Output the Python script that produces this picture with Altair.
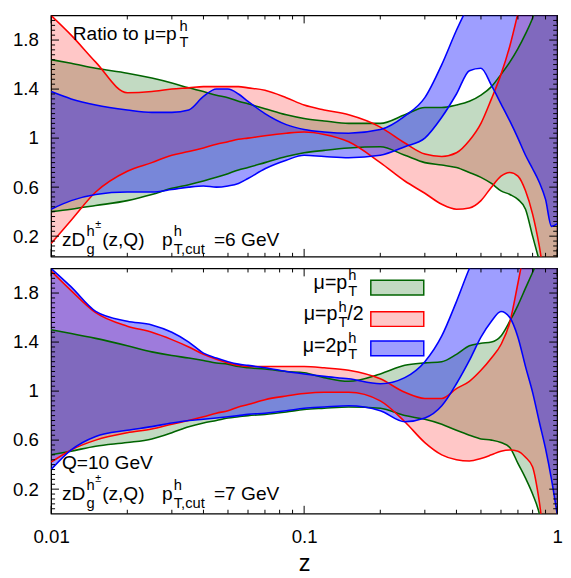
import altair as alt
import pandas as pd

# ---------------- data ----------------
Z = [0.01, 0.012, 0.015, 0.02, 0.025, 0.03, 0.035, 0.04, 0.045, 0.05, 0.055, 0.06,
     0.07, 0.085, 0.1, 0.12, 0.15, 0.2, 0.25, 0.3, 0.35, 0.4, 0.45, 0.5, 0.55, 0.6,
     0.65, 0.7, 0.75, 0.8, 0.85, 0.9, 0.95, 1.0]

# top panel: p_T,cut = 6 GeV
TOP_GREEN_HI = [1.64, 1.61, 1.57, 1.53, 1.49, 1.45, 1.41, 1.38, 1.35, 1.33, 1.30, 1.28,
                1.24, 1.19, 1.16, 1.14, 1.12, 1.12, 1.19, 1.25, 1.25, 1.27, 1.30, 1.35, 1.42, 1.52,
                1.62, 1.73, 1.85, 1.98, 2.15, 2.3, 2.45, 2.6]
TOP_GREEN_LO = [0.40, 0.42, 0.45, 0.49, 0.54, 0.59, 0.62, 0.65, 0.68, 0.71, 0.74, 0.76,
                0.80, 0.85, 0.88, 0.90, 0.92, 0.93, 0.86, 0.80, 0.78, 0.76, 0.72, 0.68, 0.63, 0.57,
                0.54, 0.50, 0.42, 0.20, 0.0, -0.2, -0.4, -0.5]
TOP_RED_HI = [2.0, 1.84, 1.62, 1.37, 1.38, 1.40, 1.41, 1.42, 1.42, 1.42, 1.42, 1.41,
              1.39, 1.33, 1.27, 1.23, 1.19, 1.09, 0.96, 0.87, 0.85, 0.88, 0.98, 1.12, 1.32, 1.52,
              1.75, 2.02, 2.3, 2.5, 2.6, 2.7, 2.8, 2.9]
TOP_RED_LO = [0.14, 0.33, 0.56, 0.73, 0.80, 0.86, 0.89, 0.92, 0.95, 0.97, 0.99, 1.0,
              1.02, 1.04, 1.05, 1.03, 0.97, 0.80, 0.65, 0.55, 0.46, 0.42, 0.43, 0.49, 0.60, 0.69,
              0.72, 0.69, 0.57, 0.38, 0.12, -0.2, -0.4, -0.5]
TOP_BLUE_HI = [1.38, 1.32, 1.27, 1.23, 1.21, 1.21, 1.23, 1.34, 1.40, 1.40, 1.36, 1.30,
               1.20, 1.11, 1.07, 1.05, 1.04, 1.07, 1.18, 1.33, 1.60, 1.88, 2.1, 2.3, 2.4, 2.5,
               2.5, 2.5, 2.5, 2.5, 2.5, 2.5, 2.5, 2.5]
TOP_BLUE_LO = [0.42, 0.49, 0.54, 0.56, 0.56, 0.58, 0.60, 0.61, 0.60, 0.61, 0.63, 0.67,
               0.75, 0.82, 0.86, 0.85, 0.84, 0.86, 0.93, 1.0, 1.17, 1.36, 1.55, 1.57, 1.43, 1.28,
               1.14, 1.0, 0.86, 0.75, 0.64, 0.50, 0.28, 0.30]

# bottom panel: p_T,cut = 7 GeV
BOT_GREEN_HI = [1.5, 1.47, 1.43, 1.37, 1.32, 1.29, 1.27, 1.25, 1.23, 1.22, 1.20, 1.19,
                1.18, 1.16, 1.15, 1.11, 1.08, 1.14, 1.21, 1.23, 1.24, 1.30, 1.37, 1.39, 1.40, 1.45,
                1.57, 1.70, 1.84, 1.97, 2.1, 2.3, 2.5, 2.6]
BOT_GREEN_LO = [0.48, 0.51, 0.55, 0.58, 0.61, 0.66, 0.71, 0.74, 0.76, 0.78, 0.79, 0.80,
                0.81, 0.83, 0.85, 0.86, 0.87, 0.86, 0.80, 0.77, 0.73, 0.68, 0.64, 0.61, 0.60, 0.58,
                0.54, 0.41, 0.29, 0.16, 0.0, -0.3, -0.5, -0.6]
BOT_RED_HI = [1.98, 1.82, 1.64, 1.53, 1.48, 1.42, 1.36, 1.30, 1.26, 1.23, 1.21, 1.20,
              1.20, 1.20, 1.20, 1.19, 1.17, 1.10, 0.99, 0.94, 0.94, 1.02, 1.08, 1.17, 1.27, 1.38,
              1.56, 1.88, 2.2, 2.5, 2.6, 2.7, 2.8, 2.9]
BOT_RED_LO = [0.42, 0.52, 0.60, 0.66, 0.69, 0.73, 0.76, 0.79, 0.82, 0.84, 0.87, 0.89,
              0.93, 0.96, 0.98, 0.99, 0.99, 0.92, 0.75, 0.58, 0.48, 0.44, 0.43, 0.45, 0.48, 0.51,
              0.52, 0.51, 0.46, 0.38, 0.10, -0.3, -0.5, -0.6]
BOT_BLUE_HI = [2.0, 1.85, 1.65, 1.57, 1.54, 1.48, 1.40, 1.31, 1.27, 1.24, 1.22, 1.21,
               1.19, 1.16, 1.14, 1.12, 1.10, 1.06, 1.11, 1.24, 1.45, 1.73, 2.0, 2.2, 2.4, 2.4,
               2.4, 2.4, 2.4, 2.4, 2.4, 2.4, 2.4, 2.4]
BOT_BLUE_LO = [0.36, 0.52, 0.63, 0.68, 0.71, 0.74, 0.76, 0.77, 0.78, 0.79, 0.80, 0.81,
               0.82, 0.84, 0.86, 0.87, 0.88, 0.84, 0.75, 0.78, 0.88, 1.06, 1.25, 1.44, 1.57, 1.65,
               1.60, 1.44, 1.2, 0.99, 0.75, 0.53, 0.28, 0.0]

X_MAJOR = [0.01, 0.1, 1.0]
X_MINOR = [0.02, 0.03, 0.04, 0.05, 0.06, 0.07, 0.08, 0.09,
           0.2, 0.3, 0.4, 0.5, 0.6, 0.7, 0.8, 0.9]
Y_MAJOR = [0.2, 0.6, 1.0, 1.4, 1.8]
Y_MINOR = [round(0.04 * i, 2) for i in range(1, 50)]

LEGEND_LABELS = ["μ=p", "μ=p", "μ=2p"]

# ---------------- styling ----------------
GREEN, RED, BLUE = "#006400", "#ff0000", "#0000ff"
OP = {GREEN: 0.24, RED: 0.22, BLUE: 0.38}
FONT = "Liberation Sans"
W = 516
H_TOP, H_BOT = 246, 250
XS = alt.Scale(type="log", domain=[0.01, 1])

YAX = alt.Axis(values=Y_MAJOR, format="~g", ticks=False, tickSize=0, domain=False,
               grid=False, labelPadding=13, title=None, minExtent=43, maxExtent=43,
               labelFont=FONT, labelFontSize=19, labelColor="black")
XAX_BOT = alt.Axis(values=X_MAJOR, format="~g", ticks=False, tickSize=0, domain=False,
                   grid=False, labelPadding=14, labelFlush=False, title="z", titlePadding=6,
                   labelFont=FONT, labelFontSize=19, labelColor="black",
                   titleFont=FONT, titleFontSize=24, titleFontWeight="normal", titleColor="black")


def one():
    return pd.DataFrame({"k": [0]})


def txt(s, x, y, size=19.5, align="left"):
    return alt.Chart(one()).mark_text(
        text=s, align=align, baseline="alphabetic", font=FONT, fontSize=size, color="black"
    ).encode(x=alt.value(x), y=alt.value(y))


def panel(bands, ydomain, H, xaxis, annotations):
    ys = alt.Scale(domain=ydomain)
    layers = []
    for lo, hi, color in bands:
        df = pd.DataFrame({"z": Z, "lo": lo, "hi": hi})
        base = alt.Chart(df)
        layers.append(base.mark_area(color=color, fillOpacity=OP[color], interpolate="monotone",
                                     clip=True).encode(
            x=alt.X("z:Q", scale=XS, axis=xaxis),
            y=alt.Y("lo:Q", scale=ys, axis=YAX), y2="hi:Q"))
    for lo, hi, color in bands:
        df = pd.DataFrame({"z": Z, "lo": lo, "hi": hi})
        base = alt.Chart(df)
        for col in ["lo", "hi"]:
            layers.append(base.mark_line(color=color, strokeWidth=1.6, interpolate="monotone",
                                         clip=True).encode(
                x=alt.X("z:Q", scale=XS, axis=xaxis),
                y=alt.Y(f"{col}:Q", scale=ys, axis=YAX)))
    # inward ticks on all four sides
    for vals, L in [(Y_MAJOR, 8), ([v for v in Y_MINOR if v not in Y_MAJOR and ydomain[0] < v < ydomain[1]], 4)]:
        d = alt.Chart(pd.DataFrame({"v": vals}))
        layers.append(d.mark_rule(color="black", strokeWidth=1).encode(
            y=alt.Y("v:Q", scale=ys, axis=YAX), x=alt.value(0), x2=alt.value(L)))
        layers.append(d.mark_rule(color="black", strokeWidth=1).encode(
            y=alt.Y("v:Q", scale=ys, axis=YAX), x=alt.value(W), x2=alt.value(W - L)))
    for vals, L in [(X_MAJOR, 8), (X_MINOR, 4)]:
        d = alt.Chart(pd.DataFrame({"t": vals}))
        layers.append(d.mark_rule(color="black", strokeWidth=1).encode(
            x=alt.X("t:Q", scale=XS, axis=xaxis), y=alt.value(H), y2=alt.value(H - L)))
        layers.append(d.mark_rule(color="black", strokeWidth=1).encode(
            x=alt.X("t:Q", scale=XS, axis=xaxis), y=alt.value(0), y2=alt.value(L)))
    layers += annotations
    return alt.layer(*layers).properties(width=W, height=H)


def zdg(dy, cut):
    return [
        txt("zD", 11, 235 + dy),
        txt("g", 36, 243 + dy, 15),
        txt("h", 36, 225 + dy, 15),
        txt("±", 45, 217 + dy, 11),
        txt("(z,Q)", 52, 235 + dy),
        txt("p", 113, 235 + dy),
        txt("h", 125, 225 + dy, 15),
        txt("T,cut", 125, 243 + dy, 15),
        txt(f"={cut} GeV", 166, 235 + dy),
    ]


top_ann = [txt("Ratio to μ=p", 22, 25), txt("h", 131, 16, 15), txt("T", 131, 32, 15)] + zdg(0, 6)

legend = []
rows = [(LEGEND_LABELS[0], 302, 21, "", GREEN, 12),
        (LEGEND_LABELS[1], 292, 53, "/2", RED, 44),
        (LEGEND_LABELS[2], 302, 85, "", BLUE, 74)]
for lab, xr, yb, tail, color, ytop in rows:
    legend.append(txt(lab, xr, yb, 20, "right"))
    legend.append(txt("h", xr + 1, yb - 9, 15))
    legend.append(txt("T", xr + 1, yb + 7, 15))
    if tail:
        legend.append(txt(tail, xr + 10, yb, 20))
    legend.append(alt.Chart(one()).mark_rect(fill=color, fillOpacity=OP[color], stroke=color,
                                             strokeWidth=1.5).encode(
        x=alt.value(326), x2=alt.value(380), y=alt.value(ytop), y2=alt.value(ytop + 15)))

bot_ann = [txt("Q=10 GeV", 11, 204)] + zdg(1, 7) + legend

top = panel([(TOP_GREEN_LO, TOP_GREEN_HI, GREEN), (TOP_RED_LO, TOP_RED_HI, RED),
             (TOP_BLUE_LO, TOP_BLUE_HI, BLUE)], [0.032, 2.0], H_TOP, None, top_ann)
bot = panel([(BOT_GREEN_LO, BOT_GREEN_HI, GREEN), (BOT_RED_LO, BOT_RED_HI, RED),
             (BOT_BLUE_LO, BOT_BLUE_HI, BLUE)], [0.0, 2.0], H_BOT, XAX_BOT, bot_ann)

chart = alt.vconcat(top, bot, spacing=8, padding=0, background="white").configure_view(
    stroke="black", strokeWidth=1.3
)

chart.save("out.html", embed_options={"renderer": "svg", "actions": False})
